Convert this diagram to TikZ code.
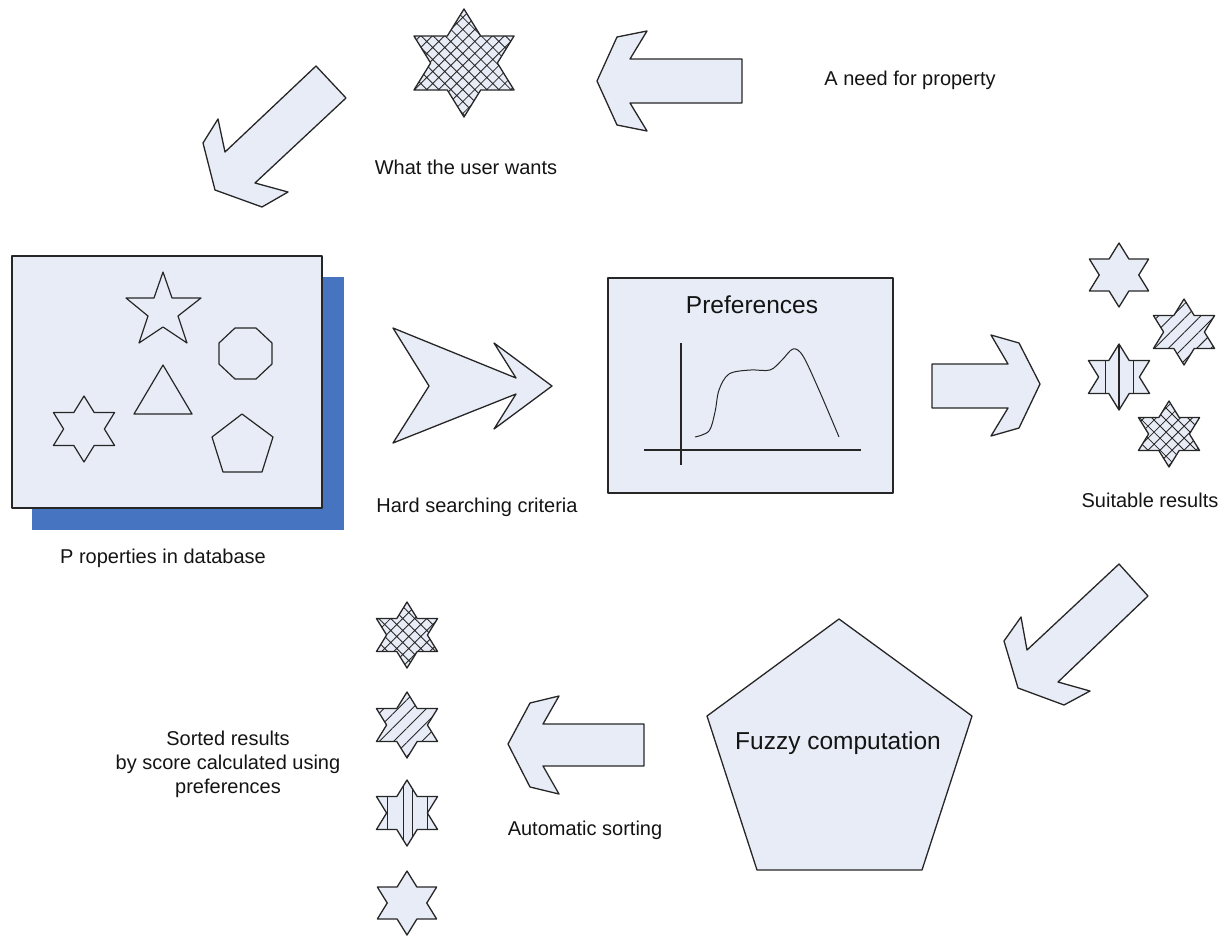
\documentclass[tikz,border=0pt]{standalone}
\usepackage{fontspec}
\setmainfont{Liberation Sans}
\usetikzlibrary{patterns.meta}
\definecolor{boxfill}{RGB}{232,236,246}
\definecolor{shadowblue}{RGB}{70,116,193}
\definecolor{edge}{RGB}{38,38,38}
\tikzset{
  blockshape/.style={fill=boxfill, draw=edge, line width=1.3pt, line join=round},
  outline/.style={draw=edge, line width=1.3pt, line join=round},
  thinline/.style={draw=edge, line width=1.1pt},
  lbl/.style={font=\fontsize{20}{24}\selectfont, text=black!92, inner sep=0pt},
  biglbl/.style={font=\fontsize{24.5}{29}\selectfont, text=black!92, inner sep=0pt},
  xhatch/.style={preaction={fill=boxfill}, pattern={Hatch[angle=45,distance=8.5pt,line width=0.85pt]}, pattern color=edge},
  dhatch/.style={preaction={fill=boxfill}, pattern={Lines[angle=45,distance=10pt,line width=0.9pt]}, pattern color=edge},
}
% hexagram: options, cx, cy, R
\newcommand\hexstar[4]{%
  \begin{scope}[shift={(#2,#3)}, xscale=1.07]
  \path[#1] (90:#4) -- (60:{#4*0.57735}) -- (30:#4) -- (0:{#4*0.57735}) -- (-30:#4) -- (-60:{#4*0.57735}) -- (-90:#4) -- (-120:{#4*0.57735}) -- (-150:#4) -- (180:{#4*0.57735}) -- (150:#4) -- (120:{#4*0.57735}) -- cycle;
  \end{scope}}
\newcommand\hexclip[3]{%
  \clip[shift={(#1,#2)}, xscale=1.07] (90:#3) -- (60:{#3*0.57735}) -- (30:#3) -- (0:{#3*0.57735}) -- (-30:#3) -- (-60:{#3*0.57735}) -- (-90:#3) -- (-120:{#3*0.57735}) -- (-150:#3) -- (180:{#3*0.57735}) -- (150:#3) -- (120:{#3*0.57735}) -- cycle;}
\begin{document}
\begin{tikzpicture}[x=1pt,y=-1pt]
\useasboundingbox (0,0) rectangle (1230,937);

% ---- top row
\path[blockshape] (316,66) -- (346,98) -- (255,183) -- (288,192) -- (262,207) -- (215,190) -- (203,143) -- (218,119) -- (225,152) -- cycle;
\hexstar{outline, xhatch}{464}{63}{54}
\node[lbl] (wants) at (466,167) {What the user wants};
\path[blockshape] (597,81) -- (617,37) -- (647,31) -- (630,59) -- (742,59) -- (742,103) -- (630,103) -- (647,131) -- (617,125) -- cycle;
\node[lbl] (need) at (910,80) {A need for property};

% ---- database
\fill[shadowblue] (32,277) rectangle (344,530);
\path[blockshape] (12,256) rectangle (322,508);
\draw[outline, line width=1.2pt] (163,272) -- (172,298) -- (201,298) -- (178,316) -- (187,343) -- (163,327) -- (139,343) -- (148,316) -- (126,298) -- (154,298) -- cycle;
\draw[outline, line width=1.2pt] (235,328) -- (256,328) -- (272,343) -- (272,364) -- (256,379) -- (235,379) -- (219,364) -- (219,343) -- cycle;
\draw[outline, line width=1.2pt] (163,365) -- (192,414) -- (134,414) -- cycle;
\hexstar{outline, line width=1.2pt}{84}{429}{33}
\draw[outline, line width=1.2pt] (242,414) -- (273,437) -- (262,472) -- (223,472) -- (212,437) -- cycle;
\node[lbl] (props) at (163,558) {P roperties in database};

% ---- hard criteria arrow
\path[blockshape] (393,328) -- (516,378) -- (494,343) -- (552,386) -- (494,429) -- (516,394) -- (393,443) -- (429,386) -- cycle;
\node[lbl] (hard) at (477,507) {Hard searching criteria};

% ---- preferences
\path[blockshape] (608,278) rectangle (893,493);
\node[biglbl] (prefs) at (752,305) {Preferences};
\draw[thinline] (681,343) -- (681,465);
\draw[thinline] (644,450) -- (861,450);
\draw[thinline, line width=1pt] plot[smooth, tension=0.55] coordinates {(695,437) (709,431) (715,412) (719,390) (729,374) (750,370) (770,370) (782,360) (793,349) (803,356) (819,390) (839,437)};

% ---- right arrow
\path[blockshape] (932,364) -- (1008,364) -- (991,335) -- (1019,343) -- (1040,384) -- (1019,428) -- (991,436) -- (1008,408) -- (932,408) -- cycle;

% ---- suitable results
\hexstar{outline, fill=boxfill}{1119}{275}{32}
\hexstar{outline, dhatch}{1184}{332}{33}
\hexstar{fill=boxfill}{1119}{377}{33}
\begin{scope}
\hexclip{1119}{377}{33}
\draw[edge, line width=0.9pt] (1105,340) -- (1105,415) (1133,340) -- (1133,415);
\draw[edge, line width=1.6pt] (1119,340) -- (1119,415);
\end{scope}
\hexstar{outline}{1119}{377}{33}
\hexstar{outline, xhatch}{1169}{434}{33}
\node[lbl] (suitable) at (1150,500) {Suitable results};

% ---- diagonal arrow right
\path[blockshape] (1119,564) -- (1148,596) -- (1058,682) -- (1090,691) -- (1064,705) -- (1018,688) -- (1004,641) -- (1021,617) -- (1027,650) -- cycle;

% ---- fuzzy computation
\path[blockshape] (839,619) -- (972,716) -- (922,870) -- (757,870) -- (707,716) -- cycle;
\node[biglbl] (fuzzy) at (838,743) {Fuzzy computation};

% ---- bottom arrow
\path[blockshape] (508,744) -- (530,703) -- (559,696) -- (543,724) -- (644,724) -- (644,766) -- (543,766) -- (559,794) -- (530,787) -- cycle;
\node[lbl] (auto) at (585,830) {Automatic sorting};

% ---- sorted results
\hexstar{outline, xhatch}{407}{635}{33}
\hexstar{outline, dhatch}{407}{725}{33}
\hexstar{fill=boxfill}{407}{813}{33}
\begin{scope}
\hexclip{407}{813}{33}
\draw[edge, line width=0.9pt] (387,775) -- (387,850) (403,775) -- (403,850) (412,775) -- (412,850) (427,775) -- (427,850);
\end{scope}
\hexstar{outline}{407}{813}{33}
\hexstar{outline, fill=boxfill}{407}{903}{32}
\node[lbl, align=center] (sorted) at (228,764) {Sorted results\\by score calculated using\\preferences};
\end{tikzpicture}
\end{document}
